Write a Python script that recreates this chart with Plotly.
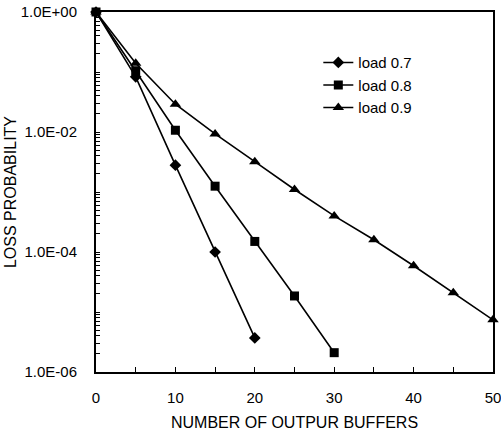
import plotly.graph_objects as go

# datos
buffers = [0, 5, 10, 15, 20, 25, 30, 35, 40, 45, 50]
load_07 = [1.0, 0.083, 2.8e-3, 1.0e-4, 3.7e-6]
load_08 = [1.0, 0.105, 1.07e-2, 1.25e-3, 1.5e-4, 1.85e-5, 2.1e-6]
load_09 = [1.0, 0.14, 0.029, 9.3e-3, 3.2e-3, 1.1e-3, 4.0e-4, 1.6e-4, 5.9e-5, 2.1e-5, 7.4e-6]
y_ticks = [1, 1e-2, 1e-4, 1e-6]
y_labels = ['1.0E+00', '1.0E-02', '1.0E-04', '1.0E-06']

series = [
    ('load 0.7', load_07, 'diamond', 9),
    ('load 0.8', load_08, 'square', 9),
    ('load 0.9', load_09, 'triangle-up', 10),
]

# marcas del eje log: decadas con texto solo en las pares, resto sin texto
tick_pos = []
tick_txt = []
for e in range(-6, 1):
    tick_pos.append(10.0 ** e)
    v = 10.0 ** e
    tick_txt.append(y_labels[y_ticks.index(v)] if v in y_ticks else '')
    if e < 0:
        for k in range(2, 10):
            tick_pos.append(k * 10.0 ** e)
            tick_txt.append('')

fig = go.Figure()
for name, vals, sym, size in series:
    fig.add_trace(go.Scatter(
        x=buffers[:len(vals)], y=vals, name=name, mode='lines+markers',
        line=dict(color='black', width=1.6),
        marker=dict(symbol=sym, size=size, color='black'),
        cliponaxis=False
    ))

fig.update_layout(
    width=501, height=434,
    margin=dict(l=96, r=8, t=12, b=62),
    plot_bgcolor='white', paper_bgcolor='white',
    font=dict(family='Liberation Sans, Arial', size=15, color='black'),
    showlegend=True,
    legend=dict(x=0.56, y=0.905, xanchor='left', yanchor='top',
                bgcolor='rgba(0,0,0,0)', font=dict(size=15),
                tracegroupgap=0, itemwidth=30)
)
fig.update_xaxes(
    range=[0, 50], tickvals=[0, 10, 20, 30, 40, 50],
    ticks='inside', ticklen=5, tickwidth=1, tickcolor='black',
    ticklabelstandoff=11, automargin=False, ticklabeloverflow='allow',
    minor=dict(dtick=5, ticks='inside', ticklen=5, tickcolor='black'),
    showline=True, linecolor='black', linewidth=2, mirror=True,
    showgrid=False, zeroline=False,
    title=dict(text='NUMBER OF OUTPUR BUFFERS', standoff=12, font=dict(size=16))
)
fig.update_yaxes(
    type='log', range=[-6, 0], tickvals=tick_pos, ticktext=tick_txt,
    ticks='inside', ticklen=4, tickcolor='black',
    ticklabelstandoff=14, automargin=False,
    showline=True, linecolor='black', linewidth=2, mirror=True,
    showgrid=False, zeroline=False,
    title=dict(text='LOSS PROBABILITY', standoff=0, font=dict(size=16))
)

# quitar el margen del body para que la figura empiece en 0,0
fig.write_html('out.html', config={'displayModeBar': False},
               post_script="document.body.style.margin='0';")
